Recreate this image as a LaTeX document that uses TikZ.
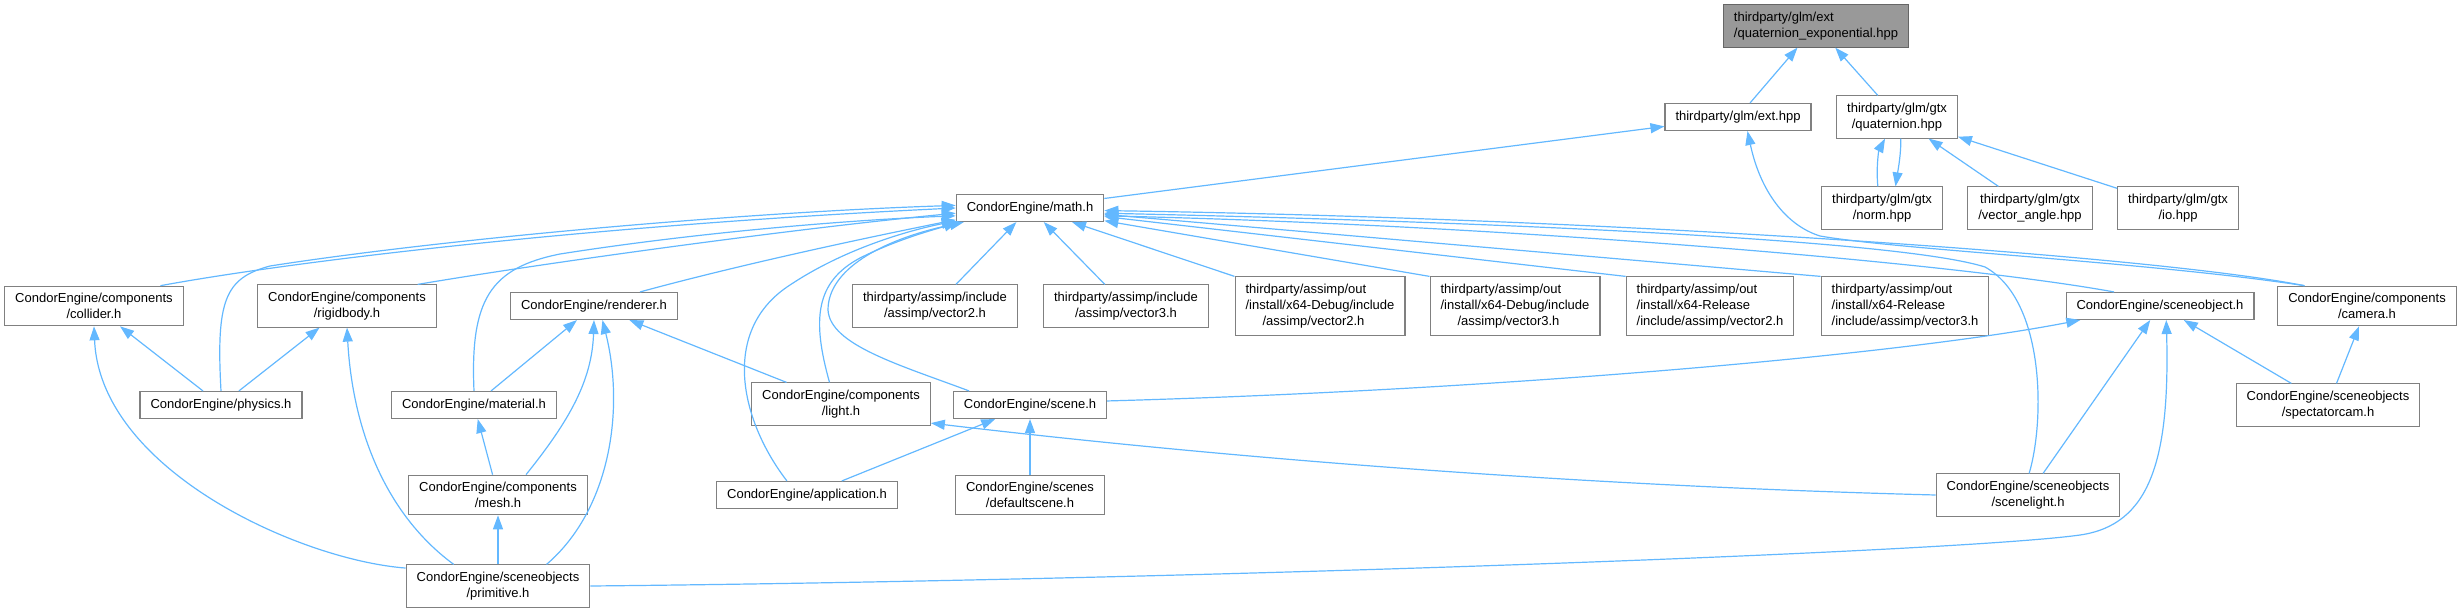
\documentclass[tikz,border=0pt]{standalone}
\usepackage{fontspec}
\setmainfont{Liberation Sans}
\usetikzlibrary{arrows.meta}
\definecolor{edgeblue}{HTML}{63B8FF}
\definecolor{boxline}{HTML}{808080}
\definecolor{curfill}{HTML}{999999}
\definecolor{curline}{HTML}{666666}

\begin{document}
\begin{tikzpicture}[x=1pt,y=-1pt,
  file/.style={draw=boxline,fill=white,line width=1.1pt,font=\fontsize{13}{16}\selectfont,align=center,inner xsep=10.5pt,inner ysep=7pt,minimum height=27pt},
  cur/.style={file,fill=curfill,draw=curline},
  inc/.style={draw=edgeblue,line width=1.2pt,-{Triangle[length=14pt,width=10pt]}}]
\useasboundingbox (0,0) rectangle (2462,613);

\node[cur,align=left] (qexp) at (1816,26) {thirdparty/glm/ext\\/quaternion\_exponential.hpp};
\node[file] (ext) at (1738,117) {thirdparty/glm/ext.hpp};
\node[file] (quat) at (1897,117) {thirdparty/glm/gtx\\/quaternion.hpp};
\node[file] (norm) at (1882,208) {thirdparty/glm/gtx\\/norm.hpp};
\node[file] (vecang) at (2030,208) {thirdparty/glm/gtx\\/vector\_angle.hpp};
\node[file] (io) at (2178,208) {thirdparty/glm/gtx\\/io.hpp};
\node[file] (math) at (1030,208) {CondorEngine/math.h};
\node[file] (asv2) at (935,306) {thirdparty/assimp/include\\/assimp/vector2.h};
\node[file] (asv3) at (1126,306) {thirdparty/assimp/include\\/assimp/vector3.h};
\node[file,align=left] (dbgv2) at (1320,306) {thirdparty/assimp/out\\/install/x64-Debug/include\\\hspace*{17pt}/assimp/vector2.h};
\node[file,align=left] (dbgv3) at (1515,306) {thirdparty/assimp/out\\/install/x64-Debug/include\\\hspace*{17pt}/assimp/vector3.h};
\node[file,align=left] (relv2) at (1710,306) {thirdparty/assimp/out\\/install/x64-Release\\/include/assimp/vector2.h};
\node[file,align=left] (relv3) at (1905,306) {thirdparty/assimp/out\\/install/x64-Release\\/include/assimp/vector3.h};
\node[file] (sobj) at (2160,306) {CondorEngine/sceneobject.h};
\node[file] (camera) at (2367,306) {CondorEngine/components\\/camera.h};
\node[file] (collider) at (94,306) {CondorEngine/components\\/collider.h};
\node[file] (rigidbody) at (347,306) {CondorEngine/components\\/rigidbody.h};
\node[file] (renderer) at (594,306) {CondorEngine/renderer.h};
\node[file] (physics) at (221,405) {CondorEngine/physics.h};
\node[file] (material) at (474,405) {CondorEngine/material.h};
\node[file] (light) at (841,404) {CondorEngine/components\\/light.h};
\node[file] (scene) at (1030,405) {CondorEngine/scene.h};
\node[file] (speccam) at (2328,405) {CondorEngine/sceneobjects\\/spectatorcam.h};
\node[file] (mesh) at (498,495) {CondorEngine/components\\/mesh.h};
\node[file] (app) at (807,495) {CondorEngine/application.h};
\node[file] (defscene) at (1030,495) {CondorEngine/scenes\\/defaultscene.h};
\node[file] (slight) at (2028,495) {CondorEngine/sceneobjects\\/scenelight.h};
\node[file] (prim) at (498,586) {CondorEngine/sceneobjects\\/primitive.h};

\draw[inc] (ext) -- (qexp);
\draw[inc] (quat) -- (qexp);
\draw[inc] (math) -- (ext);
\draw[inc] (camera.162) .. controls (2150,262) and (1900,250) .. (1820,236) .. controls (1785,225) and (1760,190) .. (ext.-56);
\draw[inc] (norm.101) .. controls (1876,165) and (1879,150) .. (quat.241);
\draw[inc] (quat.280) .. controls (1901,155) and (1898,170) .. (norm.58);
\draw[inc] (vecang) -- (quat);
\draw[inc] (io) -- (quat);

\draw[inc] (physics.north) .. controls (216,300) and (225,278) .. (270,266) .. controls (450,238) and (750,212) .. (math.178);
\draw[inc] (collider.17) .. controls (300,260) and (600,225) .. (math.180);
\draw[inc] (rigidbody.17) .. controls (550,262) and (800,228) .. (math.184);
\draw[inc] (material.north) .. controls (470,300) and (490,268) .. (560,254) .. controls (700,232) and (850,220) .. (math.186);
\draw[inc] (renderer.17) .. controls (750,262) and (880,235) .. (math.189);
\draw[inc] (app.145) .. controls (740,420) and (720,330) .. (790,285) .. controls (850,245) and (920,228) .. (math.190);
\draw[inc] (light.118) .. controls (812,320) and (815,282) .. (860,258) .. controls (900,238) and (940,228) .. (math.191);
\draw[inc] (scene.167) .. controls (900,365) and (830,345) .. (828,310) .. controls (828,270) and (880,240) .. (math.192);

\draw[inc] (asv2) -- (math);
\draw[inc] (asv3) -- (math);
\draw[inc] (dbgv2.north west) -- (math);
\draw[inc] (dbgv3.north west) -- (math);
\draw[inc] (relv2.north west) -- (math);
\draw[inc] (relv3.north west) -- (math);
\draw[inc] (sobj.163) .. controls (1950,262) and (1500,225) .. (math.-6);
\draw[inc] (camera.162) .. controls (2150,255) and (1600,218) .. (math.-2);
\draw[inc] (slight.87) .. controls (2045,420) and (2045,300) .. (1985,267) .. controls (1900,240) and (1500,222) .. (math.-4);

\draw[inc] (physics) -- (collider);
\draw[inc] (physics) -- (rigidbody);
\draw[inc] (material) -- (renderer);
\draw[inc] (mesh) -- (material);
\draw[inc] (mesh.36) .. controls (570,420) and (592,380) .. (renderer.south);
\draw[inc] (light) -- (renderer);
\draw[inc] (prim) -- (mesh);
\draw[inc] (prim.169) .. controls (300,560) and (100,470) .. (collider.south);
\draw[inc] (prim.154) .. controls (380,510) and (352,420) .. (rigidbody.south);
\draw[inc] (prim.24) .. controls (610,510) and (625,410) .. (renderer.-59);
\draw[inc] (prim.east) .. controls (1200,580) and (1960,552) .. (2080,535) .. controls (2150,525) and (2170,460) .. (sobj.-66);
\draw[inc] (app) -- (scene);
\draw[inc] (defscene) -- (scene);
\draw[inc] (scene.3) .. controls (1500,390) and (1900,355) .. (sobj.190);
\draw[inc] (slight.west) .. controls (1550,485) and (1200,455) .. (light.-12);
\draw[inc] (slight) -- (sobj);
\draw[inc] (speccam) -- (sobj);
\draw[inc] (speccam) -- (camera);
\end{tikzpicture}
\end{document}
